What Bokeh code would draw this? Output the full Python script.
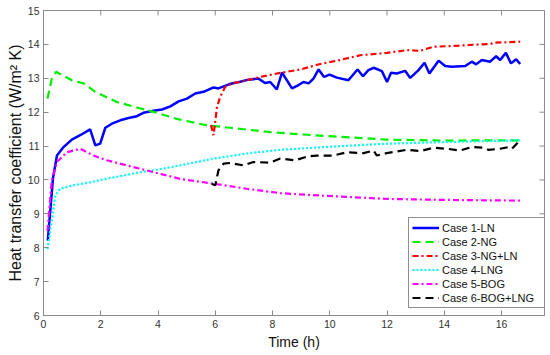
import math
from bokeh.plotting import figure
from bokeh.models import FixedTicker, Legend, LegendItem
from bokeh.embed import file_html
from bokeh.resources import INLINE

# ---- data ----
x_ticks = [0, 2, 4, 6, 8, 10, 12, 14, 16]
y_ticks = [6, 7, 8, 9, 10, 11, 12, 13, 14, 15]
x_max = 17.5
y_max = 15

t1 = [0.15,0.33,0.47,0.70,0.99,1.28,1.63,1.81,1.98,2.16,2.39,2.68,2.97,3.26,3.49,3.84,4.14,4.43,4.72,5.01,
      5.30,5.59,5.94,6.11,6.50,6.87,7.16,7.51,7.74,7.92,8.15,8.33,8.68,8.91,9.08,9.26,9.43,9.61,9.80,9.99,
      10.25,10.65,10.97,11.16,11.35,11.53,11.82,12.00,12.14,12.34,12.63,12.81,13.10,13.31,13.48,13.80,14.03,
      14.26,14.73,14.96,15.11,15.31,15.60,15.81,15.95,16.15,16.33,16.51,16.65]
h1 = [8.21,10.04,10.72,10.97,11.19,11.32,11.49,11.02,11.07,11.54,11.66,11.76,11.83,11.88,11.98,12.04,12.08,12.17,12.32,12.40,
      12.55,12.60,12.73,12.70,12.83,12.90,12.96,12.99,12.86,12.89,12.67,13.17,12.70,12.80,12.89,12.85,12.99,13.26,13.04,13.11,
      13.02,12.94,13.26,13.06,13.24,13.31,13.21,12.89,13.16,13.14,13.22,13.01,13.24,13.46,13.14,13.52,13.36,
      13.34,13.36,13.49,13.41,13.54,13.49,13.65,13.54,13.75,13.44,13.56,13.42]

t2 = [0.14,0.29,0.44,0.99,1.40,1.81,2.56,3.38,3.84,4.66,5.71,6.52,7.92,9.43,10.83,11.99,14.09,15.5,16.65]
h2 = [12.40,12.99,13.19,12.94,12.85,12.60,12.30,12.11,12.01,11.80,11.61,11.54,11.41,11.32,11.25,11.19,11.16,11.17,11.17]

t3 = [5.85,5.94,6.06,6.17,6.35,6.64,7.10,7.57,8.27,8.97,9.66,10.36,11.06,11.99,12.69,13.16,13.62,14.5,15.0,15.6,15.78,16.65]
h3 = [11.62,11.32,12.15,12.45,12.75,12.86,12.94,13.04,13.16,13.26,13.42,13.54,13.68,13.75,13.83,13.81,13.93,13.96,13.99,14.01,14.05,14.08]

t4 = [0.14,0.29,0.41,0.58,1.05,1.63,2.21,2.79,3.38,3.96,4.77,5.94,7.10,8.27,9.66,10.83,11.99,14.09,16.65]
h4 = [7.96,8.80,9.54,9.74,9.84,9.93,10.04,10.13,10.23,10.30,10.43,10.63,10.78,10.89,10.96,11.02,11.07,11.12,11.17]

t5 = [0.14,0.29,0.47,0.82,1.28,1.75,2.21,2.91,3.61,4.31,4.77,5.94,7.10,8.27,9.66,10.83,11.99,14.09,16.65]
h5 = [8.50,9.99,10.53,10.82,10.92,10.72,10.58,10.43,10.28,10.13,10.03,9.89,9.74,9.61,9.54,9.49,9.44,9.41,9.39]

t6 = [5.88,6.00,6.11,6.29,6.52,6.99,7.33,7.92,8.27,8.79,9.26,9.55,10.13,10.60,11.18,11.53,11.64,11.99,12.69,13.16,
      13.62,14.09,14.55,14.96,15.37,15.54,15.95,16.24,16.36,16.62]
h6 = [9.89,9.84,10.28,10.48,10.50,10.43,10.53,10.51,10.63,10.58,10.70,10.72,10.72,10.82,10.79,10.87,10.72,10.79,10.89,10.85,
      10.95,10.92,10.87,10.97,10.95,10.89,10.92,10.97,10.92,11.15]

labels = ["Case 1-LN", "Case 2-NG", "Case 3-NG+LN", "Case 4-LNG", "Case 5-BOG", "Case 6-BOG+LNG"]

FONT = "Liberation Sans"
AX = "#8a8a8a"

p = figure(width=550, height=355, x_range=(0, x_max), y_range=(6, y_max),
           output_backend="svg", toolbar_location=None,
           min_border_left=43, min_border_right=6, min_border_top=10, min_border_bottom=40,
           x_axis_label="Time (h)", y_axis_label="Heat transfer coefficient (W/m² K)")
p.grid.visible = False
p.outline_line_color = AX
p.outline_line_width = 1
p.background_fill_color = "white"
p.border_fill_color = "white"

for ax, tk in ((p.xaxis[0], x_ticks), (p.yaxis[0], y_ticks)):
    ax.ticker = FixedTicker(ticks=tk)
    ax.axis_line_color = AX
    ax.major_tick_line_color = AX
    ax.major_tick_in = 5
    ax.major_tick_out = 0
    ax.minor_tick_line_color = None
    ax.major_label_text_font = FONT
    ax.major_label_text_font_size = "10.5px"
    ax.major_label_text_color = "#333333"
    ax.major_label_standoff = 4
    ax.axis_label_text_font = FONT
    ax.axis_label_text_font_style = "normal"
    ax.axis_label_text_color = "#111111"
p.xaxis[0].axis_label_text_font_size = "14px"
p.xaxis[0].axis_label_standoff = 3
p.yaxis[0].axis_label_text_font_size = "16px"
p.yaxis[0].axis_label_standoff = 1

# inward tick marks on the top and right sides of the box
p.ray(x=x_ticks, y=[y_max] * len(x_ticks), length=5, length_units="screen",
      angle=-math.pi / 2, line_color=AX, line_width=1)
p.ray(x=[x_max] * len(y_ticks), y=y_ticks, length=5, length_units="screen",
      angle=math.pi, line_color=AX, line_width=1)

r1 = p.line(t1, h1, line_color="#0000ff", line_width=2.5)
r2 = p.line(t2, h2, line_color="#00ee00", line_width=2.2, line_dash="8 5")
r3 = p.line(t3, h3, line_color="#ff0000", line_width=2.2, line_dash="6 3 2 3")
r4 = p.line(t4, h4, line_color="#00ffff", line_width=2.2, line_dash="2 2")
r5 = p.line(t5, h5, line_color="#ff00ff", line_width=2.2, line_dash="6 3 2 3")
r6 = p.line(t6, h6, line_color="#000000", line_width=2.2, line_dash="8 5")

items = [LegendItem(label=l, renderers=[r]) for l, r in zip(labels, [r1, r2, r3, r4, r5, r6])]
leg = Legend(items=items, location=(365, 7))
leg.label_text_font = FONT
leg.label_text_font_size = "11px"
leg.label_text_color = "#111111"
leg.glyph_width = 27
leg.glyph_height = 13
leg.label_height = 13
leg.label_width = 99
leg.label_standoff = 3
leg.spacing = 1
leg.padding = 3
leg.margin = 0
leg.border_line_color = "#222222"
leg.border_line_width = 1
leg.background_fill_alpha = 1
p.add_layout(leg, "center")

open("out.html", "w").write(file_html(p, INLINE))
